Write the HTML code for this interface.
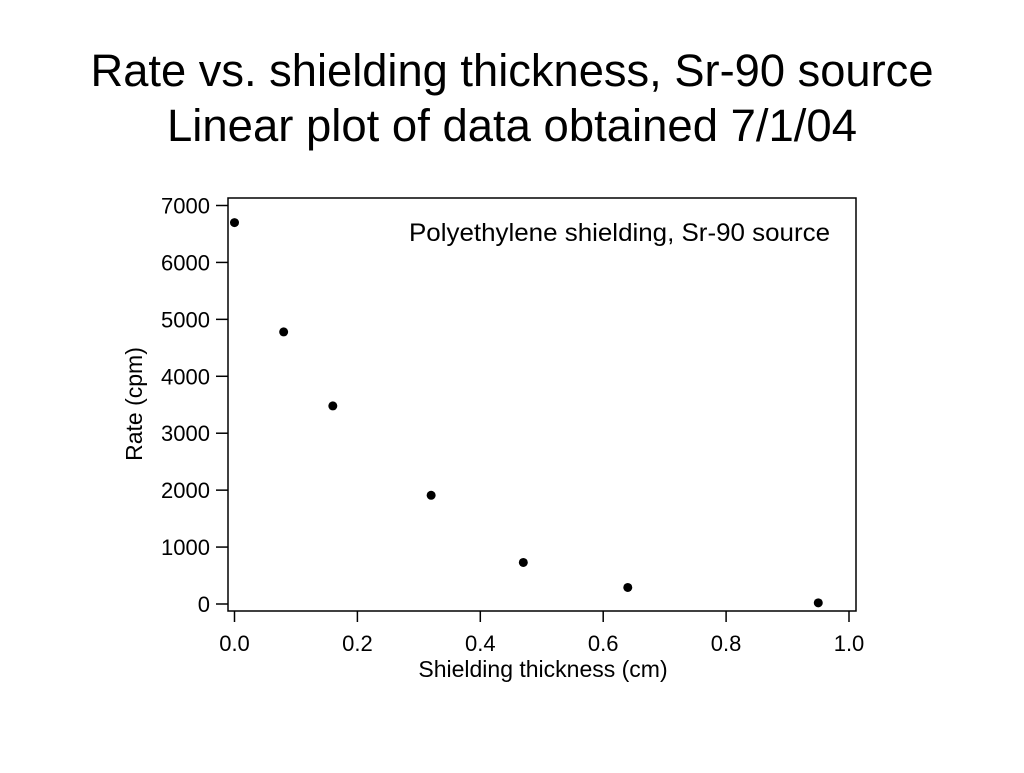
<!DOCTYPE html>
<html><head><meta charset="utf-8"><style>
body{margin:0;background:#fff;width:1024px;height:768px;overflow:hidden;font-family:"Liberation Sans",Arial,sans-serif}
</style></head><body>
<svg width="1024" height="768" xmlns="http://www.w3.org/2000/svg">
<g font-size="45" text-anchor="middle" fill="#000">
<text x="512" y="86" textLength="843" lengthAdjust="spacingAndGlyphs">Rate vs. shielding thickness, Sr-90 source</text>
<text x="512" y="141" textLength="690" lengthAdjust="spacingAndGlyphs">Linear plot of data obtained 7/1/04</text>
</g>
<rect x="228" y="198" width="628" height="413" fill="none" stroke="#000" stroke-width="1.5"/>
<text x="830" y="241" font-size="25" textLength="421" lengthAdjust="spacingAndGlyphs" text-anchor="end">Polyethylene shielding, Sr-90 source</text>
<g id="axes"></g>
<g id="points"></g>
<text x="543" y="677" font-size="23" text-anchor="middle">Shielding thickness (cm)</text>
<text transform="translate(142,404) rotate(-90)" font-size="23" text-anchor="middle">Rate (cpm)</text>
</svg>
<script>
const thickness=[0,0.08,0.16,0.32,0.47,0.64,0.95];
const rate=[6700,4780,3480,1910,730,290,20];
const xTicks=[0,0.2,0.4,0.6,0.8,1.0];
const xTickLabels=["0.0","0.2","0.4","0.6","0.8","1.0"];
const yTicks=[0,1000,2000,3000,4000,5000,6000,7000];
const ns="http://www.w3.org/2000/svg";
function xs(v){return 234.5+v*614.5;}
function ys(v){return 604-v*(398.5/7000);}
const ax=document.getElementById('axes'),pt=document.getElementById('points');
function mk(t,a,p){const e=document.createElementNS(ns,t);for(const k in a)e.setAttribute(k,a[k]);p.appendChild(e);return e;}
xTicks.forEach((v,i)=>{
 const l=mk('line',{x1:xs(v),x2:xs(v),y1:611,y2:622,stroke:'#000','stroke-width':1.5},ax);
 
 
 const t=mk('text',{x:xs(v),y:651,'font-size':22,'text-anchor':'middle'},ax);t.textContent=xTickLabels[i];
 
 
});
yTicks.forEach(v=>{
 const l=mk('line',{x1:216,x2:228,y1:ys(v),y2:ys(v),stroke:'#000','stroke-width':1.5},ax);
 
 
 const t=mk('text',{x:210,y:ys(v)+8,'font-size':22,'text-anchor':'end'},ax);t.textContent=v;
 
 
});
thickness.forEach((v,i)=>{
 const c=mk('circle',{cx:xs(v),cy:ys(rate[i]),r:4.5,fill:'#000'},pt);
 
 
});
</script>
</body></html>
